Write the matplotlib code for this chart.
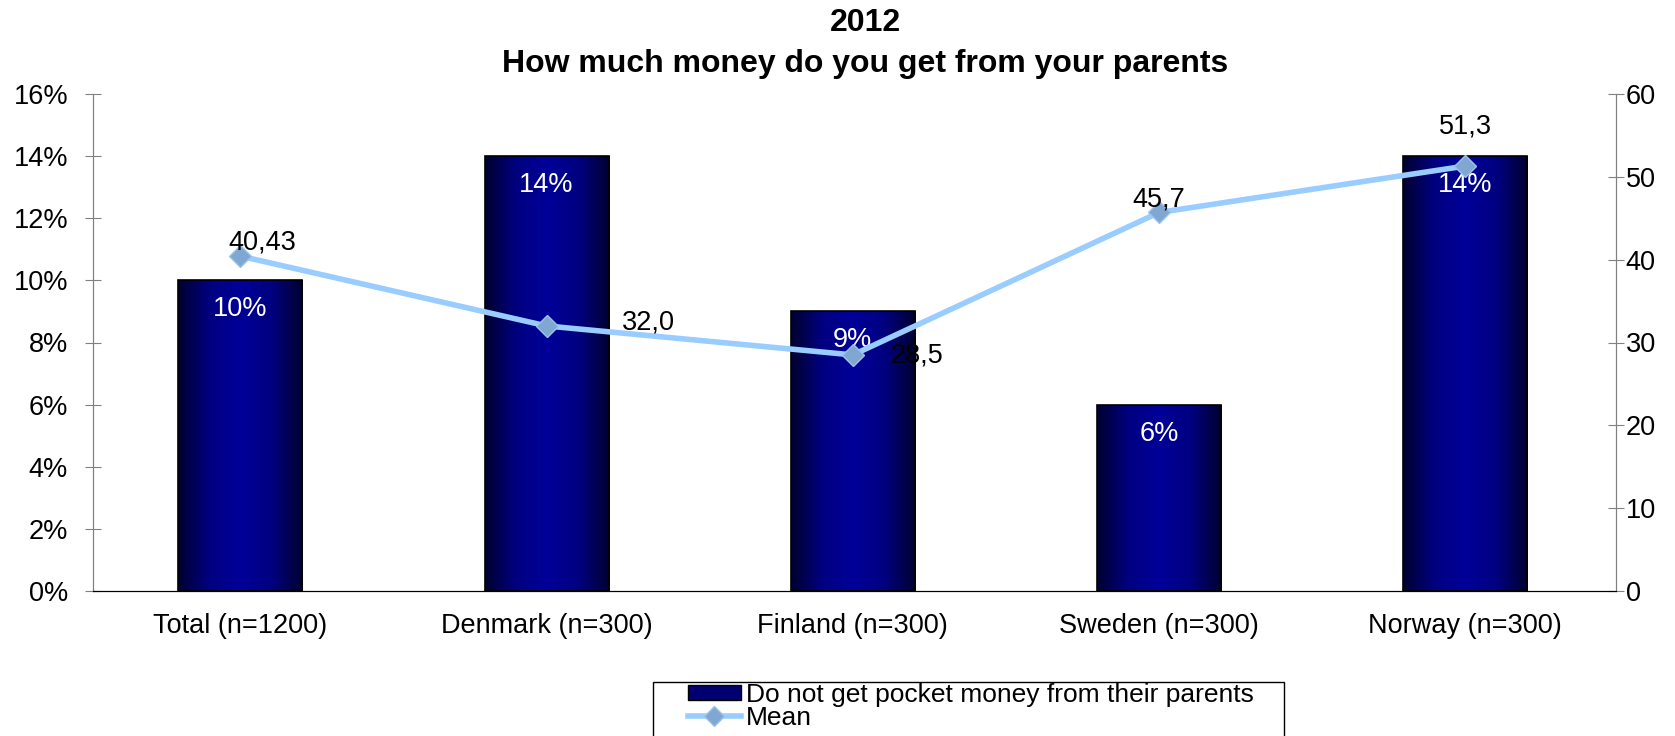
import numpy as np
import matplotlib
matplotlib.use("Agg")
import matplotlib.pyplot as plt
from matplotlib.colors import LinearSegmentedColormap
from matplotlib.patches import Patch, Rectangle
from matplotlib.lines import Line2D

plt.rcParams['font.family'] = ['Liberation Sans', 'DejaVu Sans']

categories = ["Total (n=1200)", "Denmark (n=300)", "Finland (n=300)",
              "Sweden (n=300)", "Norway (n=300)"]
no_pocket_money = [10, 14, 9, 6, 14]          # percent
mean_amount = [40.43, 32.0, 28.5, 45.7, 51.3]
mean_labels = ["40,43", "32,0", "28,5", "45,7", "51,3"]
mean_offsets = [(22, 14), (102, 3), (64, -1), (0, 13), (0, 40)]  # label offsets in pixels

FS = 19.5
LINE_C = '#99CCFF'
MARK_FC = '#7FA7D2'
MARK_EC = '#9CC3EA'

W, H = 1675, 736
fig = plt.figure(figsize=(W / 100, H / 100), dpi=100)
ax = fig.add_axes([93 / W, 1 - 591 / H, (1616 - 93) / W, (591 - 94) / H])
ax2 = ax.twinx()

x = np.arange(len(categories))
bar_w = 0.405
bars = ax.bar(x, no_pocket_money, width=bar_w, color='none', edgecolor='black',
              linewidth=1.2, zorder=3)

# horizontal gradient fill for each bar: dark edges, brighter blue centre
grad_cmap = LinearSegmentedColormap.from_list(
    "navy_grad", ["#000030", "#000080", "#000099", "#000080", "#000030"])
grad = np.linspace(0, 1, 256).reshape(1, -1)
for rect in bars:
    x0, y0 = rect.get_x(), rect.get_y()
    w, h = rect.get_width(), rect.get_height()
    im = ax.imshow(grad, cmap=grad_cmap, aspect='auto',
                   extent=(x0, x0 + w, y0, y0 + h), zorder=2)
    im.set_clip_path(rect)

for xi, v in zip(x, no_pocket_money):
    ax.annotate(f"{v}%", (xi, v), xytext=(0, -29), textcoords='offset pixels',
                ha='center', va='center', color='white', fontsize=FS, zorder=5)

ax.set_xlim(-0.481, 4.492)
ax.set_ylim(0, 16)
ax.set_yticks(np.arange(0, 17, 2))
ax.set_yticklabels([f"{t}%" for t in range(0, 17, 2)])
ax.set_xticks(x)
ax.set_xticklabels(categories)

ax2.plot(x, mean_amount, color=LINE_C, linewidth=4, marker='D', markersize=11,
         markerfacecolor=MARK_FC, markeredgecolor=MARK_EC, markeredgewidth=1,
         zorder=4)
ax2.set_ylim(0, 60)
ax2.set_yticks(np.arange(0, 61, 10))
for xi, v, lab, off in zip(x, mean_amount, mean_labels, mean_offsets):
    ax2.annotate(lab, (xi, v), xytext=off, textcoords='offset pixels',
                 ha='center', va='center', fontsize=FS, color='black', zorder=6)

for a in (ax, ax2):
    a.spines['top'].set_visible(False)
    a.spines['left'].set_color('#808080')
    a.spines['right'].set_color('#808080')
    a.spines['bottom'].set_color('black')
    a.tick_params(axis='y', direction='inout', length=12, color='#808080',
                  labelsize=FS)
    a.tick_params(axis='x', length=0, labelsize=FS, pad=16)
ax.tick_params(axis='y', pad=12)
ax2.tick_params(axis='y', pad=1)
ax.set_zorder(ax2.get_zorder() - 1)
ax2.patch.set_visible(False)

title_x = 865 / W
fig.text(title_x, 0.969, "2012", ha='center', va='center', fontsize=23, fontweight='bold')
fig.text(title_x, 0.913, "How much money do you get from your parents", ha='center',
         va='center', fontsize=23, fontweight='bold')

# legend frame runs past the bottom edge of the figure
fig.patches.append(Rectangle((653 / W, -0.05), (1284 - 653) / W, 0.05 + (H - 682) / H,
                             transform=fig.transFigure, facecolor='white',
                             edgecolor='black', linewidth=1.0, zorder=1))
LFS = 19
handles = [Patch(facecolor='#000070', edgecolor='black', linewidth=1),
           Line2D([0], [0], color=LINE_C, linewidth=4, marker='D', markersize=10,
                  markerfacecolor=MARK_FC, markeredgecolor=MARK_EC)]
leg = fig.legend(handles, ["Do not get pocket money from their parents", "Mean"],
                 loc='upper left', bbox_to_anchor=(688 / W, 1 - 683 / H),
                 fontsize=LFS, frameon=False, borderpad=0,
                 handlelength=2.0, handleheight=0.53, handletextpad=0.2,
                 labelspacing=-0.05, borderaxespad=0)
leg.set_zorder(2)

fig.savefig("out.png", dpi=100)
